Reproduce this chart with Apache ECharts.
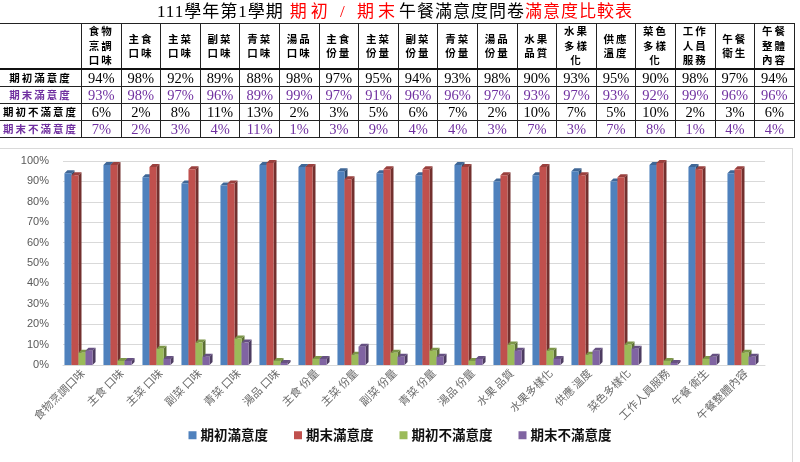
<!DOCTYPE html>
<html lang="zh-TW">
<head>
    <meta charset="UTF-8">
    <title>111學年第1學期 午餐滿意度比較表</title>
    <script src="https://cdn.jsdelivr.net/npm/echarts@6/dist/echarts.min.js"></script>
    <style>
        body {
            margin: 0;
            width: 800px;
            height: 462px;
            overflow: hidden;
            background: #fff;
            font-family: "Noto Sans CJK TC", sans-serif;
        }
        #chart {
            position: absolute;
            left: 0;
            top: 0;
            width: 800px;
            height: 462px;
        }
        #frame {
            position: absolute;
            left: -2px;
            top: 148px;
            width: 793px;
            height: 330px;
            border: 1px solid #d9d9d9;
            pointer-events: none;
        }
        #title {
            position: absolute;
            left: 0;
            top: 2px;
            width: 790px;
            text-align: center;
            font-size: 17px;
            line-height: 20px;
            font-family: "Liberation Serif", "Noto Sans CJK TC", serif;
            color: #000;
        }
        #title .red { color: #ff0000; }
        #title .spaced { letter-spacing: 4px; margin-left: 6px; }
        #title .wide { letter-spacing: 1px; }
        #sheet {
            position: absolute;
            left: -1px;
            top: 23px;
            border-collapse: collapse;
            table-layout: fixed;
            background: #fff;
        }
        #sheet td {
            border: 1px solid #222;
            padding: 0;
            text-align: center;
            overflow: hidden;
            white-space: nowrap;
        }
        #sheet tr.head td {
            height: 44px;
            font-size: 10.5px;
            font-weight: bold;
            line-height: 14.5px;
            letter-spacing: 2px;
        }
        #sheet tr.head td { border-bottom: 2px solid #111; }
        #sheet tr.row td {
            height: 16px;
            font-size: 14.5px;
            line-height: 16px;
            font-family: "Liberation Serif", serif;
        }
        #sheet tr.row td.lab {
            font-family: "Noto Sans CJK TC", sans-serif;
            font-size: 10.5px;
            font-weight: bold;
            letter-spacing: 2px;
        }
        #sheet tr.purple td { color: #7030a0; }
    </style>
</head>
<body>

<div id="chart"></div>
<div id="frame"></div>
<div id="title"><span class="wide">111學年第1學期</span><span class="red spaced">期初 / 期末</span><span class="wide">午餐滿意度問卷</span><span class="red wide">滿意度比較表</span></div>
<table id="sheet"></table>

<script>
    // 類別 (圖表軸標籤)
    const categories = ['食物烹調口味', '主食 口味', '主菜 口味', '副菜 口味', '青菜 口味', '湯品 口味',
        '主食 份量', '主菜 份量', '副菜 份量', '青菜 份量', '湯品 份量', '水果 品質',
        '水果多樣化', '供應 溫度', '菜色多樣化', '工作人員服務', '午餐 衛生', '午餐整體內容'];
    // 表頭 (換行用 |)
    const tableHeads = ['食物|烹調|口味', '主食|口味', '主菜|口味', '副菜|口味', '青菜|口味', '湯品|口味',
        '主食|份量', '主菜|份量', '副菜|份量', '青菜|份量', '湯品|份量', '水果|品質',
        '水果|多樣|化', '供應|溫度', '菜色|多樣|化', '工作|人員|服務', '午餐|衛生', '午餐|整體|內容'];

    const seriesNames = ['期初滿意度', '期末滿意度', '期初不滿意度', '期末不滿意度'];
    const seriesColors = ['#4f81bd', '#c0504d', '#9bbb59', '#8064a2'];

    const startSat = [94, 98, 92, 89, 88, 98, 97, 95, 94, 93, 98, 90, 93, 95, 90, 98, 97, 94];
    const endSat = [93, 98, 97, 96, 89, 99, 97, 91, 96, 96, 97, 93, 97, 93, 92, 99, 96, 96];
    const startUnsat = [6, 2, 8, 11, 13, 2, 3, 5, 6, 7, 2, 10, 7, 5, 10, 2, 3, 6];
    const endUnsat = [7, 2, 3, 4, 11, 1, 3, 9, 4, 4, 3, 7, 3, 7, 8, 1, 4, 4];

    const yTicks = [0, 10, 20, 30, 40, 50, 60, 70, 80, 90, 100];

    const allSeries = [startSat, endSat, startUnsat, endUnsat];

    // ---- 上方表格 ----
    const sheet = document.getElementById('sheet');
    const colgroup = document.createElement('colgroup');
    let colHtml = '<col style="width:82px">';
    tableHeads.forEach(() => { colHtml += '<col style="width:39.6px">'; });
    colgroup.innerHTML = colHtml;
    sheet.appendChild(colgroup);

    let head = '<tr class="head"><td></td>';
    tableHeads.forEach(h => { head += '<td>' + h.split('|').join('<br>') + '</td>'; });
    head += '</tr>';
    let body = '';
    allSeries.forEach((vals, i) => {
        const cls = (i % 2 === 1) ? 'row purple' : 'row';
        body += '<tr class="' + cls + '"><td class="lab">' + seriesNames[i] + '</td>';
        vals.forEach(v => { body += '<td>' + v + '%</td>'; });
        body += '</tr>';
    });
    sheet.insertAdjacentHTML('beforeend', head + body);

    // ---- 仿 Excel 立體柱 ----
    function shade(hex, k) {
        const n = parseInt(hex.slice(1), 16);
        const r = Math.round(((n >> 16) & 255) * k);
        const g = Math.round(((n >> 8) & 255) * k);
        const b = Math.round((n & 255) * k);
        return 'rgb(' + r + ',' + g + ',' + b + ')';
    }

    function bar3d(idx, color) {
        return function (params, api) {
            const cat = api.value(0);
            const base = api.coord([cat, 0]);
            const top = api.coord([cat, api.value(1)]);
            const band = api.size([1, 0])[0];
            const w = band * 0.18;
            const d = 3;  // 深度
            const x0 = base[0] - 2 * w - 4 + idx * w;
            const x1 = x0 + w;
            return {
                type: 'group',
                children: [
                    {
                        type: 'polygon',
                        shape: { points: [[x1, top[1]], [x1 + d, top[1] - d], [x1 + d, base[1] - d], [x1, base[1]]] },
                        style: { fill: shade(color, 0.6) }
                    },
                    {
                        type: 'polygon',
                        shape: { points: [[x0, top[1]], [x0 + d, top[1] - d], [x1 + d, top[1] - d], [x1, top[1]]] },
                        style: { fill: shade(color, 0.8) }
                    },
                    {
                        type: 'rect',
                        shape: { x: x0, y: top[1], width: w, height: base[1] - top[1] },
                        style: { fill: color }
                    }
                ]
            };
        };
    }

    const chart = echarts.init(document.getElementById('chart'));

    const option = {
        animation: false,
        grid: {
            left: 63,
            right: 35,
            top: 161,
            bottom: 97
        },
        legend: {
            bottom: 15,
            left: 'center',
            icon: 'rect',
            itemWidth: 8,
            itemHeight: 8,
            itemGap: 26,
            data: seriesNames,
            textStyle: {
                fontSize: 13.5,
                color: '#111',
                fontWeight: 'bold',
                fontFamily: 'Noto Sans CJK TC',
                padding: [0, 0, 0, -1]
            }
        },
        xAxis: {
            type: 'category',
            data: categories,
            axisLine: { show: true, lineStyle: { color: '#d9d9d9' } },
            axisTick: { show: false },
            axisLabel: {
                rotate: 45,
                interval: 0,
                margin: 6,
                fontSize: 11,
                color: '#6b6b6b',
                fontFamily: 'Noto Sans CJK TC'
            }
        },
        yAxis: {
            type: 'value',
            min: yTicks[0],
            max: yTicks[yTicks.length - 1],
            interval: yTicks[1] - yTicks[0],
            axisLabel: {
                formatter: '{value}%',
                margin: 14,
                fontSize: 11,
                color: '#595959',
                fontFamily: 'Liberation Sans'
            },
            splitLine: { lineStyle: { color: '#d9d9d9' } }
        },
        series: allSeries.map((vals, i) => ({
            name: seriesNames[i],
            type: 'custom',
            itemStyle: { color: seriesColors[i] },
            renderItem: bar3d(i, seriesColors[i]),
            encode: { x: 0, y: 1 },
            data: vals.map((v, c) => [c, v])
        }))
    };

    chart.setOption(option);
</script>

</body>
</html>
